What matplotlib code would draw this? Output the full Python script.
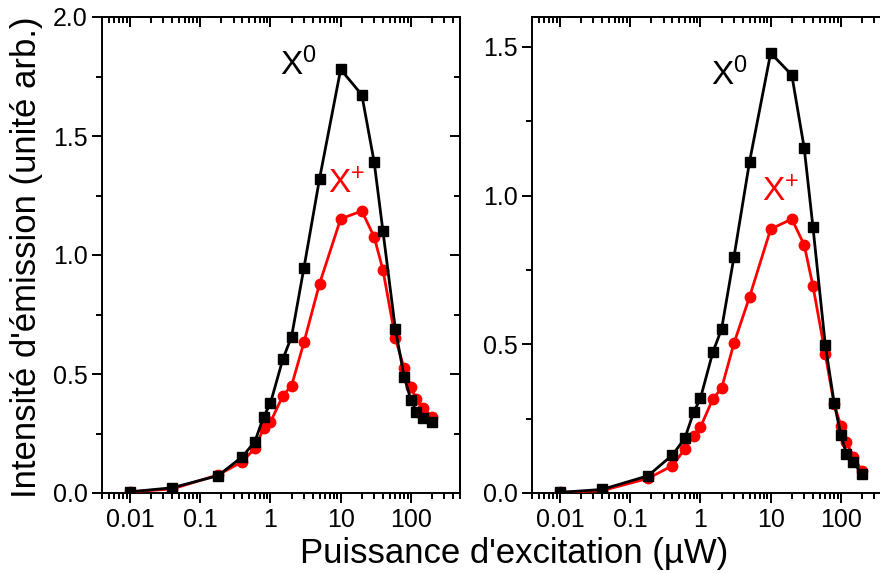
import matplotlib
matplotlib.use("Agg")
import matplotlib.pyplot as plt
from matplotlib.ticker import MultipleLocator, LogLocator, FixedLocator, FuncFormatter, NullFormatter

plt.rcParams['font.family'] = ['Liberation Sans', 'DejaVu Sans']
plt.rcParams['mathtext.fontset'] = 'custom'
plt.rcParams['mathtext.rm'] = 'Liberation Sans'
plt.rcParams['mathtext.it'] = 'Liberation Sans'

power = [0.01, 0.04, 0.18, 0.4, 0.6, 0.8, 1, 1.5, 2, 3, 5, 10, 20, 30, 40,
         60, 80, 100, 120, 150, 200]

left_x0 = [0.005, 0.022, 0.073, 0.153, 0.216, 0.32, 0.377, 0.562, 0.657, 0.946,
           1.32, 1.78, 1.673, 1.39, 1.10, 0.69, 0.489, 0.391, 0.342, 0.317, 0.30]
left_xp = [0.005, 0.017, 0.076, 0.132, 0.188, 0.272, 0.297, 0.409, 0.451, 0.633,
           0.879, 1.152, 1.185, 1.076, 0.937, 0.65, 0.524, 0.444, 0.394, 0.356, 0.321]

right_x0 = [0.002, 0.012, 0.058, 0.128, 0.184, 0.271, 0.318, 0.473, 0.551, 0.793,
            1.113, 1.479, 1.405, 1.16, 0.894, 0.497, 0.304, 0.195, 0.131, 0.103, 0.063]
right_xp = [0.002, 0.008, 0.049, 0.092, 0.148, 0.193, 0.221, 0.316, 0.352, 0.503,
            0.659, 0.887, 0.921, 0.834, 0.696, 0.466, 0.299, 0.226, 0.172, 0.122, 0.075]

xticks = [0.01, 0.1, 1, 10, 100]
xlim = (0.004, 500)

W, H = 880, 574
fig = plt.figure(figsize=(W / 100, H / 100), dpi=100)

def px_axes(x0, y0, x1, y1):
    return fig.add_axes([x0 / W, 1 - y1 / H, (x1 - x0) / W, (y1 - y0) / H])

axL = px_axes(102, 17, 460, 493)
axR = px_axes(532, 17, 890, 493)

def style(ax, ylim, major, minor, x0vals, xpvals, lab0, labp):
    ax.plot(power, xpvals, color='#ff0000', lw=2.0, marker='o', ms=7.5,
            zorder=3)
    ax.plot(power, x0vals, color='black', lw=2.0, marker='s', ms=7.2,
            zorder=4)
    ax.set_xscale('log')
    ax.set_xlim(*xlim)
    ax.set_ylim(*ylim)
    ax.xaxis.set_major_locator(FixedLocator(xticks))
    ax.xaxis.set_major_formatter(FuncFormatter(lambda v, p: '%g' % v))
    ax.xaxis.set_minor_locator(LogLocator(base=10, subs=range(2, 10), numticks=20))
    ax.xaxis.set_minor_formatter(NullFormatter())
    ax.yaxis.set_major_locator(MultipleLocator(major))
    ax.yaxis.set_minor_locator(MultipleLocator(minor))
    ax.yaxis.set_major_formatter(FuncFormatter(lambda v, p: '%.1f' % v))
    ax.tick_params(which='both', direction='out', width=1.4, labelsize=18,
                   top=False, right=False)
    ax.tick_params(which='major', length=7)
    ax.tick_params(which='minor', length=4)
    for s in ax.spines.values():
        s.set_linewidth(1.4)
    # mirrored ticks pointing inward
    top = ax.secondary_xaxis('top')
    top.xaxis.set_major_locator(FixedLocator(xticks))
    top.xaxis.set_minor_locator(LogLocator(base=10, subs=range(2, 10), numticks=20))
    top.xaxis.set_minor_formatter(NullFormatter())
    top.tick_params(which='both', direction='in', width=1.4, labeltop=False)
    top.tick_params(which='major', length=7)
    top.tick_params(which='minor', length=4)
    top.spines['top'].set_linewidth(1.4)
    right = ax.secondary_yaxis('right')
    right.yaxis.set_major_locator(MultipleLocator(major))
    right.yaxis.set_minor_locator(MultipleLocator(minor))
    right.tick_params(which='both', direction='in', width=1.4, labelright=False)
    right.tick_params(which='major', length=7)
    right.tick_params(which='minor', length=4)
    right.spines['right'].set_linewidth(1.4)
    ax.text(lab0[0], lab0[1], r'$\mathregular{X^{0}}$', color='black',
            fontsize=24, ha='center', va='center')
    ax.text(labp[0], labp[1], r'$\mathregular{X^{+}}$', color='#ff0000',
            fontsize=24, ha='center', va='center')

style(axL, (0, 2.0), 0.5, 0.25, left_x0, left_xp, (2.47, 1.8), (12.3, 1.296))
style(axR, (0, 1.6), 0.5, 0.25, right_x0, right_xp, (2.55, 1.406), (14.0, 1.01))

fig.text(27 / W, 1 - 257 / H, "Intensité d'émission (unité arb.)", rotation=90,
         fontsize=25, ha='center', va='center')
fig.text(514 / W, 1 - 553 / H, "Puissance d'excitation (µW)", fontsize=25,
         ha='center', va='center')

fig.savefig('out.png', dpi=100)
